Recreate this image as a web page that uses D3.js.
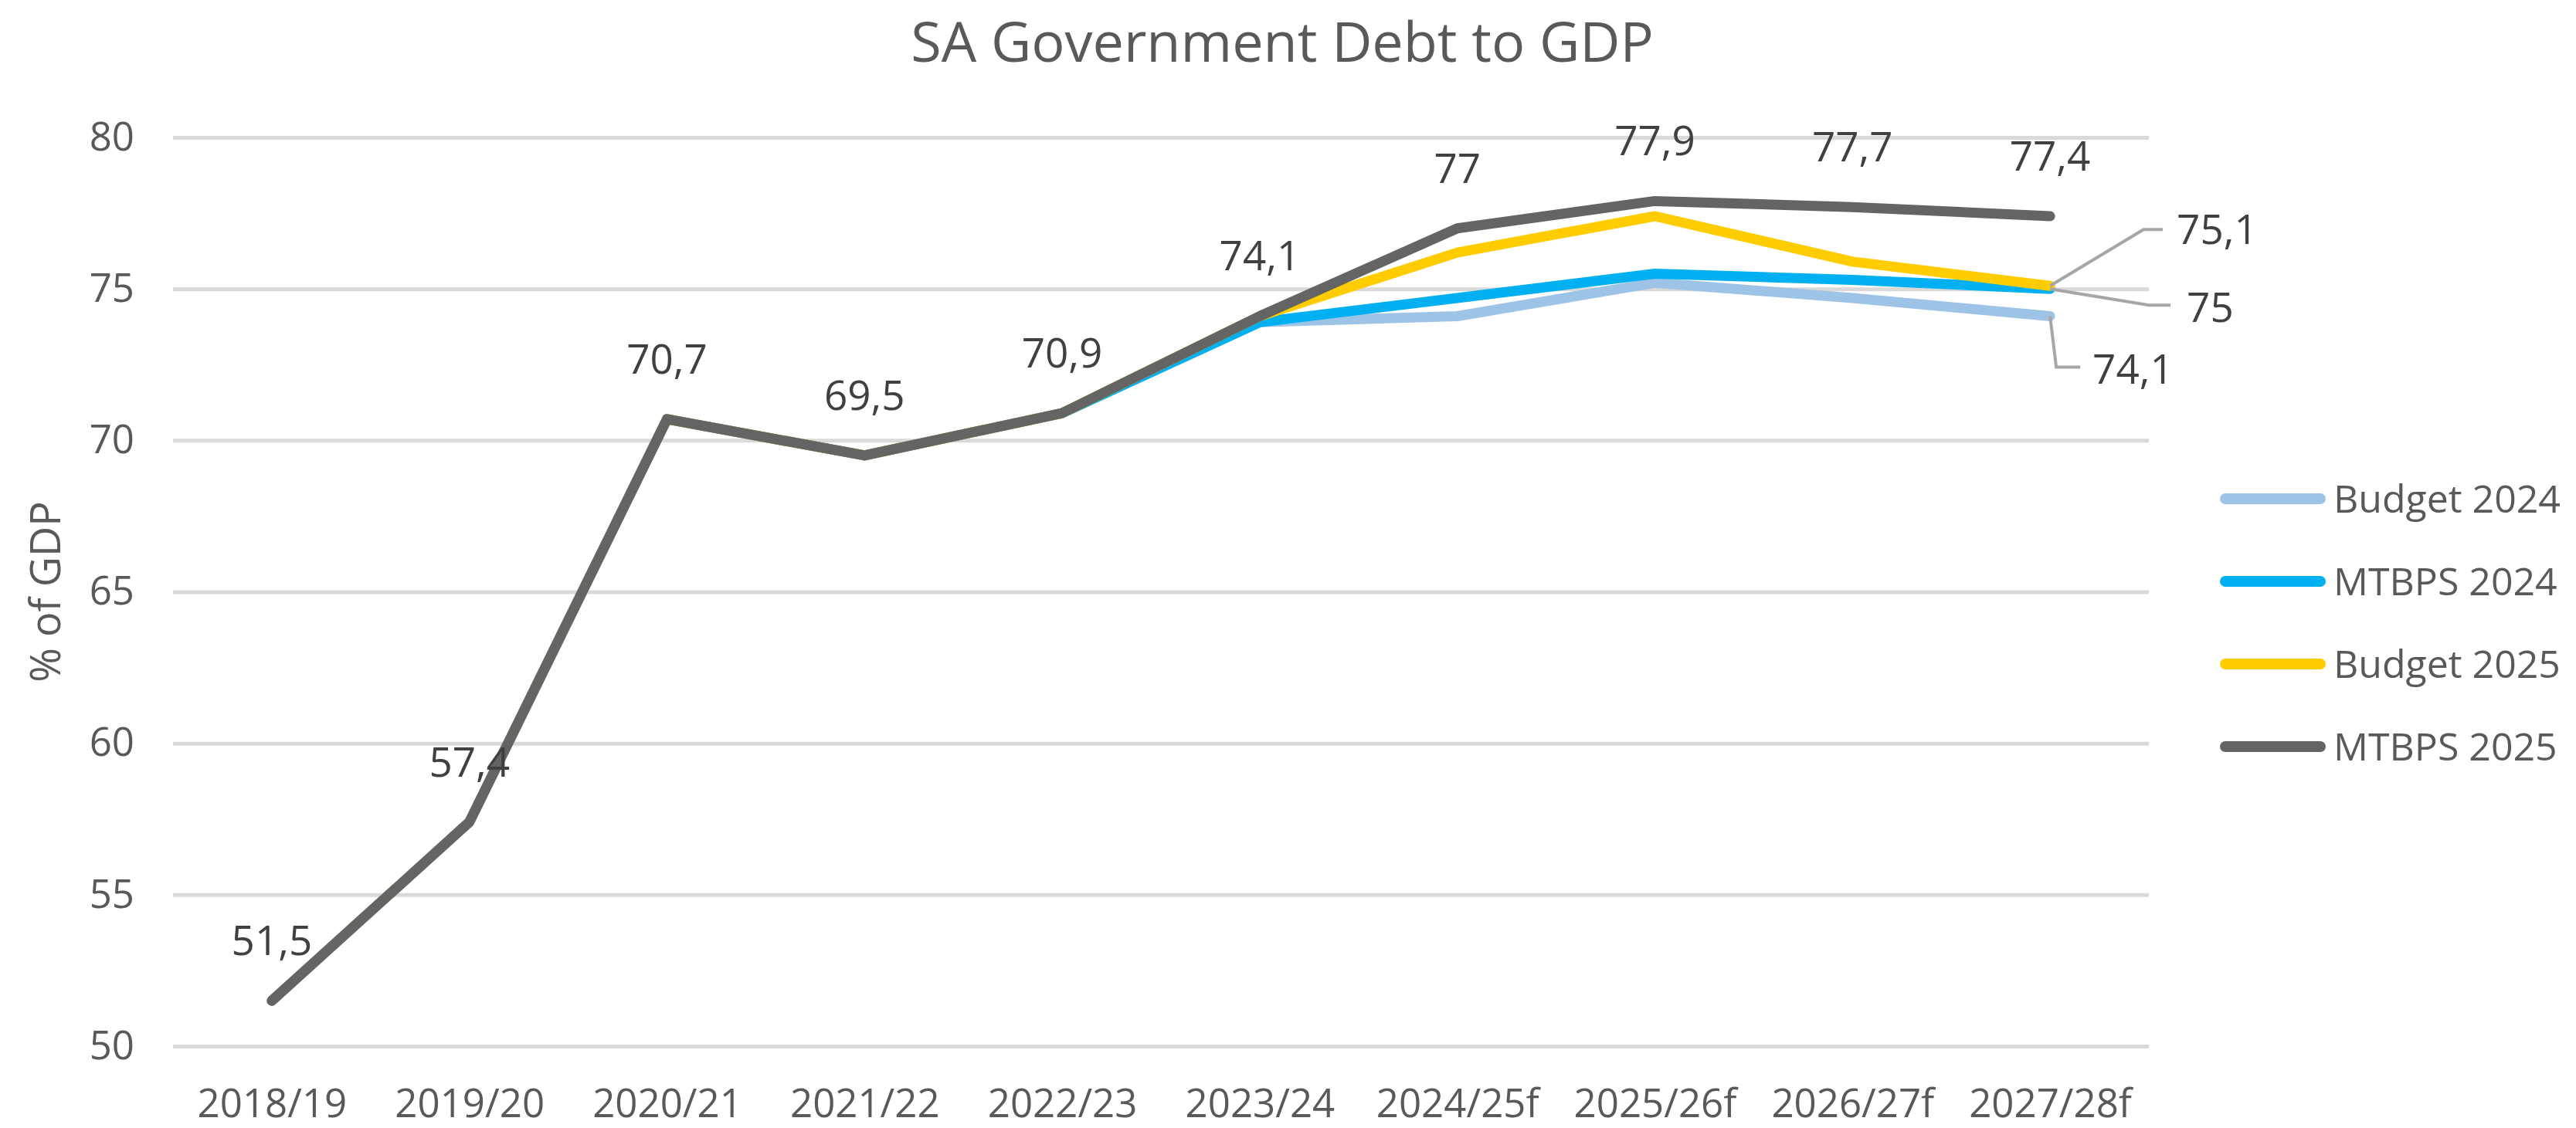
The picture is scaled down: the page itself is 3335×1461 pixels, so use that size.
<!DOCTYPE html>
<html>
<head>
<meta charset="utf-8">
<script src="https://cdn.jsdelivr.net/npm/d3@7/dist/d3.min.js"></script>
<style>
  body { margin: 0; background: #fff; }
  text { font-family: "Open Sans", sans-serif; }
</style>
</head>
<body>
<div id="chart"></div>
<script>
// values
const categories = ['2018/19', '2019/20', '2020/21', '2021/22', '2022/23',
                    '2023/24', '2024/25f', '2025/26f', '2026/27f', '2027/28f'];
const seriesNames = ['Budget 2024', 'MTBPS 2024', 'Budget 2025', 'MTBPS 2025'];
const budget2024 = [51.5, 57.4, 70.7, 69.5, 70.9, 73.9, 74.1, 75.2, 74.7, 74.1];
const mtbps2024  = [51.5, 57.4, 70.7, 69.5, 70.9, 73.9, 74.7, 75.5, 75.3, 75.0];
const budget2025 = [51.5, 57.4, 70.7, 69.5, 70.9, 74.1, 76.2, 77.4, 75.9, 75.1];
const mtbps2025  = [51.5, 57.4, 70.7, 69.5, 70.9, 74.1, 77.0, 77.9, 77.7, 77.4];
const yTicks = [50, 55, 60, 65, 70, 75, 80];

class Chart {

    constructor(opts) {
        this.element = opts.element;
        this.series = opts.series;
        this.colors = ['#9dc3e6', '#00b0f0', '#ffcc00', '#646464'];
        // leader lines for the end labels of the older forecasts: [bend, end, label centre]
        this.leaders = [
            [[8, 66], [39, 66], [55, 68]],
            [[128, 21], [156, 21], [177, 24]],
            [[121, -73], [146, -73], [164, -73]]
        ];
        this.draw();
    }

    draw() {
        this.width = 3335;
        this.height = 1461;
        this.plotBox = { left: 224, right: 2782, top: 178, bottom: 1355 };

        this.element.innerHTML = '';
        this.svg = d3.select(this.element).append('svg')
            .attr('width', this.width)
            .attr('height', this.height);

        this.svg.append('rect')
            .attr('width', this.width)
            .attr('height', this.height)
            .attr('fill', '#fff');

        this.createScales();
        this.addAxes();
        this.addLines();
        this.addLabels();
        this.addLegend();
    }

    createScales() {
        const p = this.plotBox;
        this.xScale = d3.scalePoint()
            .domain(categories)
            .range([p.left, p.right])
            .padding(0.5);

        this.yScale = d3.scaleLinear()
            .domain([50, 80])
            .range([p.bottom, p.top]);
    }

    addAxes() {
        const p = this.plotBox;

        this.svg.append('text')
            .attr('x', 1660)
            .attr('y', 80)
            .attr('text-anchor', 'middle')
            .style('font-size', '72px')
            .style('fill', '#595959')
            .text('SA Government Debt to GDP');

        // gridlines double as the y axis
        const yAxis = d3.axisLeft(this.yScale)
            .tickValues(yTicks)
            .tickSize(-(p.right - p.left))
            .tickPadding(50);

        const gy = this.svg.append('g')
            .attr('transform', `translate(${p.left},0)`)
            .call(yAxis);
        gy.select('.domain').remove();
        gy.selectAll('line')
            .attr('stroke', '#d9d9d9')
            .attr('stroke-width', 5);
        gy.selectAll('text')
            .style('font-size', '51px')
            .style('fill', '#595959')
            .attr('font-family', null);

        const xAxis = d3.axisBottom(this.xScale)
            .tickSize(0)
            .tickPadding(56);

        const gx = this.svg.append('g')
            .attr('transform', `translate(0,${p.bottom})`)
            .call(xAxis);
        gx.select('.domain').remove();
        gx.selectAll('text')
            .style('font-size', '51px')
            .style('fill', '#595959')
            .attr('font-family', null);

        this.svg.append('text')
            .attr('transform', `translate(78,${(p.top + p.bottom) / 2}) rotate(-90)`)
            .attr('text-anchor', 'middle')
            .style('font-size', '54px')
            .style('fill', '#595959')
            .text('% of GDP');
    }

    addLines() {
        const line = d3.line()
            .x((d, i) => this.xScale(categories[i]))
            .y(d => this.yScale(d));

        this.svg.append('g')
            .selectAll('path')
            .data(this.series)
            .join('path')
            .attr('d', d => line(d))
            .attr('fill', 'none')
            .attr('stroke', (d, i) => this.colors[i])
            .attr('stroke-width', 13)
            .attr('stroke-linejoin', 'round')
            .attr('stroke-linecap', 'round');
    }

    addLabels() {
        const fmt = v => String(v).replace('.', ',');
        const last = categories.length - 1;
        const latest = this.series[this.series.length - 1];

        // labels above every point of the latest series
        this.svg.append('g')
            .selectAll('text')
            .data(latest)
            .join('text')
            .attr('x', (d, i) => this.xScale(categories[i]))
            .attr('y', d => this.yScale(d) - 59)
            .attr('text-anchor', 'middle')
            .style('font-size', '53px')
            .style('fill', '#404040')
            .text(fmt);

        // end labels with leader lines for the other series
        const lead = d3.line();
        const ends = this.svg.append('g');
        this.leaders.forEach((l, i) => {
            const v = this.series[i][last];
            const x0 = this.xScale(categories[last]);
            const y0 = this.yScale(v);
            ends.append('path')
                .attr('d', lead([[x0, y0], [x0 + l[0][0], y0 + l[0][1]], [x0 + l[1][0], y0 + l[1][1]]]))
                .attr('fill', 'none')
                .attr('stroke', '#a6a6a6')
                .attr('stroke-width', 4);
            ends.append('text')
                .attr('x', x0 + l[2][0])
                .attr('y', y0 + l[2][1])
                .attr('dy', '0.36em')
                .style('font-size', '53px')
                .style('fill', '#404040')
                .text(fmt(v));
        });
    }

    addLegend() {
        const rows = this.svg.append('g')
            .selectAll('g')
            .data(seriesNames)
            .join('g')
            .attr('transform', (d, i) => `translate(2881,${646 + i * 107})`);

        rows.append('line')
            .attr('x1', 0)
            .attr('x2', 123)
            .attr('stroke', (d, i) => this.colors[i])
            .attr('stroke-width', 14)
            .attr('stroke-linecap', 'round');

        rows.append('text')
            .attr('x', 140)
            .attr('dy', '0.36em')
            .style('font-size', '50px')
            .style('fill', '#595959')
            .text(d => d);
    }
}

new Chart({
    element: document.getElementById('chart'),
    series: [budget2024, mtbps2024, budget2025, mtbps2025]
});
</script>
</body>
</html>
